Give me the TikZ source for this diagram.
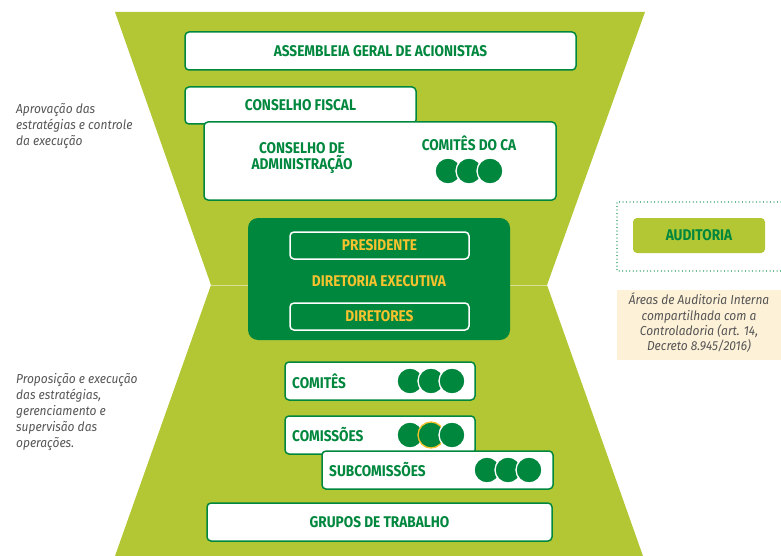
\documentclass[tikz,border=0pt]{standalone}
\usepackage{fontspec}
\setmainfont{Fira Sans}
\newfontfamily\lblfont[FakeStretch=0.88]{Fira Sans}
\newfontfamily\notefont[FakeStretch=0.92]{Fira Sans}
\definecolor{lgreen}{RGB}{179,198,52}
\definecolor{dgreen}{RGB}{0,135,62}
\definecolor{gold}{RGB}{246,194,46}
\definecolor{beige}{RGB}{253,241,216}
\definecolor{gtext}{RGB}{85,85,85}
\definecolor{midline}{RGB}{214,224,150}
\begin{document}
\begin{tikzpicture}[x=1pt,y=-1pt,
  wbox/.style={draw=dgreen, line width=1.5pt, fill=white, rounded corners=4pt, inner sep=0pt},
  obox/.style={draw=white, line width=1.5pt, rounded corners=4pt, inner sep=0pt},
  lbl/.style={text=dgreen, font=\lblfont\bfseries\fontsize{15.5}{17}\selectfont, inner sep=0pt},
  ylbl/.style={text=gold, font=\lblfont\bfseries\fontsize{15.5}{17}\selectfont, inner sep=0pt},
  note/.style={text=gtext, font=\notefont\itshape\fontsize{13}{16}\selectfont, inner sep=0pt},
  dot/.style={circle, fill=dgreen, draw=white, line width=1.3pt, minimum size=26pt, inner sep=0pt}]
\useasboundingbox (0,0) rectangle (781,556);
% hourglass
\fill[lgreen] (115,12) -- (645,12) -- (547,285) -- (643,556) -- (115,556) -- (211,285) -- cycle;
\draw[midline, line width=1pt] (211,285) -- (547,285);
% top boxes
\node[wbox, lbl, minimum width=391pt, minimum height=38pt] (ag) at (380.5,51) {ASSEMBLEIA GERAL DE ACIONISTAS};
\node[wbox, lbl, minimum width=231pt, minimum height=37pt] (cf) at (300.5,105.5) {CONSELHO FISCAL};
\node[wbox, minimum width=352pt, minimum height=78pt] (ca) at (380,161) {};
\node[lbl, align=center, font=\lblfont\bfseries\fontsize{15.5}{16.5}\selectfont] (cat) at (302,158) {CONSELHO DE\\ADMINISTRAÇÃO};
\node[lbl] (cct) at (469,143) {COMITÊS DO CA};
\node[dot] (cc1) at (448,171) {};
\node[dot] (cc2) at (469,171) {};
\node[dot] (cc3) at (490,171) {};
% diretoria
\node[fill=dgreen, rounded corners=10pt, minimum width=262pt, minimum height=122pt, inner sep=0pt] (de) at (379,279) {};
\node[obox, ylbl, minimum width=179pt, minimum height=27pt] (pr) at (379.5,245.5) {PRESIDENTE};
\node[ylbl] (det) at (379,281) {DIRETORIA EXECUTIVA};
\node[obox, ylbl, minimum width=179pt, minimum height=27pt] (di) at (379.5,316.5) {DIRETORES};
% lower boxes
\node[wbox, minimum width=190pt, minimum height=38pt] (co) at (380,381) {};
\node[lbl, anchor=west] (cot) at (292,381) {COMITÊS};
\node[dot] (co1) at (410,381) {};
\node[dot] (co2) at (431,381) {};
\node[dot] (co3) at (452,381) {};
\node[wbox, minimum width=190pt, minimum height=38pt] (cm) at (380,435) {};
\node[lbl, anchor=west] (cmt) at (292,435) {COMISSÕES};
\node[dot] (cm1) at (410,435) {};
\node[dot, draw=gold] (cm2) at (431,435) {};
\node[dot] (cm3) at (452,435) {};
\node[wbox, minimum width=231pt, minimum height=38pt] (sc) at (437.5,470) {};
\node[lbl, anchor=west] (sct) at (329,470) {SUBCOMISSÕES};
\node[dot] (sc1) at (487,470) {};
\node[dot] (sc2) at (508,470) {};
\node[dot] (sc3) at (529,470) {};
\node[wbox, lbl, minimum width=345pt, minimum height=38pt] (gt) at (379.5,522) {GRUPOS DE TRABALHO};
% auditoria
\draw[dgreen!70, line width=1.2pt, dash pattern=on 0.01pt off 3.5pt, line cap=round] (781,202) -- (617,202) -- (617,271) -- (781,271);
\node[fill=lgreen, rounded corners=4pt, lbl, minimum width=132pt, minimum height=35pt] (au) at (699,235.5) {AUDITORIA};
\node[fill=beige, minimum width=164pt, minimum height=70pt, inner sep=0pt] (bz) at (699,325) {};
\node[note, align=center, font=\notefont\itshape\fontsize{13}{15.3}\selectfont] (bzt) at (699,323) {Áreas de Auditoria Interna\\compartilhada com a\\Controladoria (art. 14,\\Decreto 8.945/2016)};
% left notes
\node[note, align=left, anchor=north west] (n1) at (16,103) {Aprovação das\\estratégias e controle\\da execução};
\node[note, align=left, anchor=north west] (n2) at (16,373) {Proposição e execução\\das estratégias,\\gerenciamento e\\supervisão das\\operações.};
\end{tikzpicture}
\end{document}
